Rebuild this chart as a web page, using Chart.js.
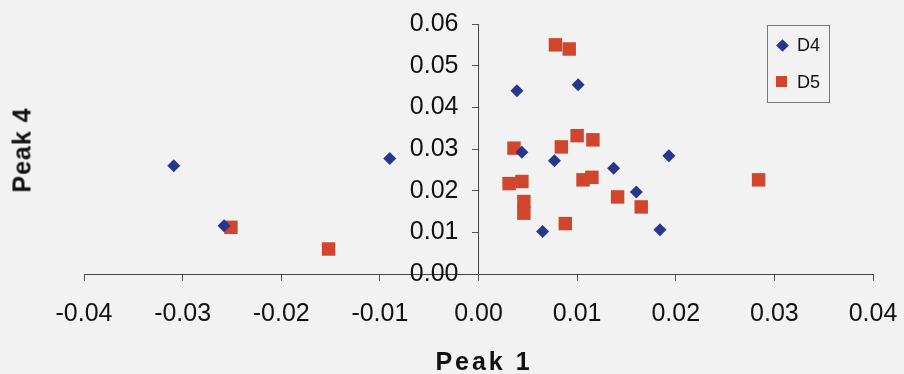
<!DOCTYPE html>
<html>
<head>
<meta charset="utf-8">
<script src="https://cdn.jsdelivr.net/npm/chart.js@4/dist/chart.umd.min.js"></script>
<style>
  body { margin: 0; background: #f2f2f2; }
  #wrap { position: relative; width: 904px; height: 374px; background: #f2f2f2; font-family: "Liberation Sans", Arial, sans-serif; }
  canvas { position: absolute; left: 0; top: 0; }
  .ttl { position: absolute; font-weight: bold; font-size: 25px; color: #111; white-space: nowrap; }
  #xTitle { left: 484px; top: 361px; transform: translate(-50%, -50%); letter-spacing: 3px; }
  #yTitle { left: 22px; top: 150px; transform: translate(-50%, -50%) rotate(-90deg); letter-spacing: 1px; }
  #legend { position: absolute; left: 767px; top: 25px; width: 61px; height: 76px; border: 1px solid #777; font-size: 18px; color: #111; }
  .item { position: absolute; left: 0; height: 20px; line-height: 20px; }
  .item span { position: absolute; left: 29px; top: 0; }
  .diamond { position: absolute; left: 10px; top: 6px; width: 9px; height: 9px; background: #27378c; transform: rotate(45deg); }
  .square { position: absolute; left: 8px; top: 4px; width: 11px; height: 11px; background: #d0452c; }
</style>
</head>
<body>
<div id="wrap">
  <canvas id="chart" width="904" height="374"></canvas>
  <div class="ttl" id="xTitle">Peak 1</div>
  <div class="ttl" id="yTitle">Peak 4</div>
  <div id="legend">
    <div class="item" style="top:9px"><i class="diamond"></i><span>D4</span></div>
    <div class="item" style="top:46px"><i class="square"></i><span>D5</span></div>
  </div>
</div>
<script>
// values
var d4x = [-0.0309, -0.0258, -0.0090, 0.0039, 0.0101, 0.0044, 0.0077, 0.0137, 0.0160, 0.0193, 0.0065, 0.0184];
var d4y = [0.0260, 0.0116, 0.0277, 0.0440, 0.0454, 0.0292, 0.0272, 0.0254, 0.0197, 0.0284, 0.0102, 0.0106];
var d5x = [-0.0251, -0.0152, 0.0078, 0.0092, 0.0100, 0.0116, 0.0036, 0.0084, 0.0031, 0.0044, 0.0046, 0.0046, 0.0106, 0.0115, 0.0141, 0.0165, 0.0088, 0.0284];
var d5y = [0.0112, 0.0060, 0.0550, 0.0540, 0.0332, 0.0322, 0.0302, 0.0305, 0.0217, 0.0222, 0.0174, 0.0146, 0.0226, 0.0232, 0.0185, 0.0161, 0.0121, 0.0226];
var xTickLabels = ['-0.04', '-0.03', '-0.02', '-0.01', '0.00', '0.01', '0.02', '0.03', '0.04'];
var yTickLabels = ['0.00', '0.01', '0.02', '0.03', '0.04', '0.05', '0.06'];

function toPoints(xs, ys) {
    var pts = [];
    for (var i = 0; i < xs.length; i++) {
        pts.push({x: xs[i], y: ys[i]});
    }
    return pts;
}

// tick padding also feeds the layout margins, so the label offset
// below the x axis comes from lineHeight instead
var xTickFont = {family: '"Liberation Sans", Arial, sans-serif', size: 25, lineHeight: 2.4};
var yTickFont = {family: '"Liberation Sans", Arial, sans-serif', size: 25, lineHeight: 0.8};

new Chart(document.getElementById('chart'), {
    type: 'scatter',
    data: {
        datasets: [{
            label: 'D4',
            data: toPoints(d4x, d4y),
            pointStyle: 'rectRot',
            pointRadius: 6.5,
            pointHoverRadius: 6.5,
            backgroundColor: '#27378c',
            borderColor: '#27378c',
            borderWidth: 0
        }, {
            label: 'D5',
            data: toPoints(d5x, d5y),
            pointStyle: 'rect',
            pointRadius: 9.5,
            pointHoverRadius: 9.5,
            backgroundColor: '#d0452c',
            borderColor: '#d0452c',
            borderWidth: 0
        }]
    },
    options: {
        responsive: false,
        animation: false,
        layout: {padding: {left: 84, right: 31, top: 24, bottom: 100}},
        plugins: {legend: {display: false}, tooltip: {enabled: false}},
        scales: {
            x: {
                type: 'linear',
                position: {y: 0},
                min: -0.04,
                max: 0.04,
                afterFit: function(s){ s.height = 0; },
                grid: {drawOnChartArea: false, drawTicks: true, tickLength: 6, color: '#555'},
                border: {display: true, color: '#444', width: 1},
                ticks: {
                    stepSize: 0.01,
                    autoSkip: false,
                    maxRotation: 0,
                    padding: 4,
                    color: '#111',
                    font: xTickFont,
                    callback: function(v, i){ return xTickLabels[i]; }
                }
            },
            y: {
                type: 'linear',
                // x range is symmetric, so the centre is x = 0
                position: 'center',
                min: 0,
                max: 0.06,
                afterFit: function(s){ s.width = 0; },
                grid: {drawOnChartArea: false, drawTicks: true, tickLength: 6, color: '#555'},
                border: {display: true, color: '#444', width: 1},
                ticks: {
                    stepSize: 0.01,
                    autoSkip: false,
                    padding: 14,
                    color: '#111',
                    font: yTickFont,
                    callback: function(v, i){ return yTickLabels[i]; }
                }
            }
        }
    }
});
</script>
</body>
</html>
